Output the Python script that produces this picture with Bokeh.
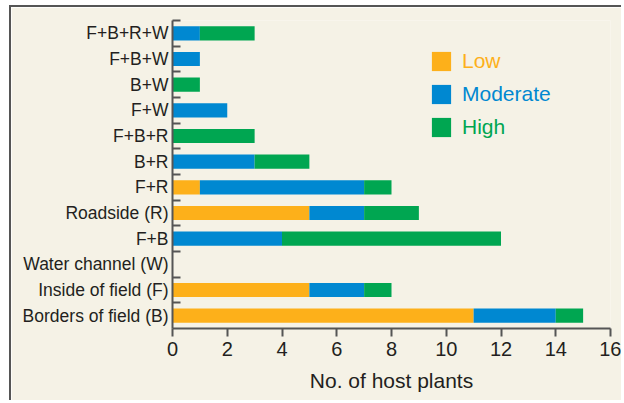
from bokeh.plotting import figure
from bokeh.models import Range1d, LinearAxis, FixedTicker, Legend, LegendItem, ColumnDataSource
from bokeh.embed import file_html
from bokeh.resources import INLINE

categories = ["Borders of field (B)", "Inside of field (F)", "Water channel (W)", "F+B",
              "Roadside (R)", "F+R", "B+R", "F+B+R", "F+W", "B+W", "F+B+W", "F+B+R+W"]
low = [11, 5, 0, 0, 5, 1, 0, 0, 0, 0, 0, 0]
moderate = [3, 2, 0, 4, 2, 6, 3, 0, 2, 0, 1, 1]
high = [1, 1, 0, 8, 2, 1, 2, 3, 0, 1, 0, 2]
series_names = ["Low", "Moderate", "High"]
x_ticks = [0, 2, 4, 6, 8, 10, 12, 14, 16]
x_title = "No. of host plants"

colors = ["#FDB01A", "#0088D1", "#00A651"]
cream = "#F5F2E6"
ink = "#231F20"
axis_col = "#555555"
font = "Liberation Sans"

ypos = list(range(len(categories)))
source = ColumnDataSource(dict(y=ypos, Low=low, Moderate=moderate, High=high))

p = figure(width=612, height=395, x_range=Range1d(0, 16),
           y_range=Range1d(-0.5, len(categories) - 0.5),
           output_backend="svg", toolbar_location=None, y_axis_type=None,
           min_border_left=161, min_border_right=13, min_border_top=13, min_border_bottom=74,
           background_fill_color=cream, border_fill_color=cream, outline_line_color=None)
p.styles = {"border-left": "2px solid #555555", "border-top": "2px solid #555555",
            "margin-left": "9px", "margin-top": "5px"}
p.grid.visible = False

rs = p.hbar_stack(series_names, y="y", height=0.55, color=colors, line_color=None, source=source)

# x axis
xa = p.xaxis[0]
xa.ticker = FixedTicker(ticks=x_ticks)
xa.major_tick_in = 0
xa.major_tick_out = 8
xa.minor_tick_line_color = None
xa.axis_line_color = axis_col
xa.axis_line_width = 2
xa.major_tick_line_color = axis_col
xa.major_tick_line_width = 2
xa.major_label_text_font = font
xa.major_label_text_font_size = "20px"
xa.major_label_text_color = ink
xa.major_label_standoff = 5
xa.axis_label = x_title
xa.axis_label_text_font = font
xa.axis_label_text_font_size = "21px"
xa.axis_label_text_font_style = "normal"
xa.axis_label_text_color = ink
xa.axis_label_standoff = 10

# y axis with boundary ticks pointing inward
bounds = [i + 0.5 for i in range(len(categories))]
ta = LinearAxis(ticker=FixedTicker(ticks=bounds, minor_ticks=[]))
ta.major_tick_in = 8
ta.major_tick_out = 0
ta.major_tick_line_color = axis_col
ta.major_tick_line_width = 2
ta.minor_tick_line_color = None
ta.axis_line_color = axis_col
ta.axis_line_width = 2
ta.major_label_text_alpha = 0
ta.major_label_text_font_size = "1px"
ta.major_label_standoff = 0
p.add_layout(ta, "left")

la = LinearAxis(ticker=FixedTicker(ticks=ypos, minor_ticks=[]),
                major_label_overrides={i: c for i, c in enumerate(categories)})
la.axis_line_color = None
la.major_tick_line_color = None
la.minor_tick_line_color = None
la.major_tick_out = 0
la.major_tick_in = 0
la.major_label_standoff = 4
la.major_label_text_font = font
la.major_label_text_font_size = "17.5px"
la.major_label_text_color = ink
p.add_layout(la, "left")

# legends (one per series to colour the text)
leg_pos = [(257, 255), (257, 222), (257, 189)]
for name, r, c, loc in zip(series_names, rs, colors, leg_pos):
    leg = Legend(items=[LegendItem(label=name, renderers=[r])], location=loc,
                 padding=0, margin=0, spacing=0, glyph_width=24, glyph_height=24,
                 label_height=24, label_standoff=9, border_line_color=None,
                 background_fill_alpha=0, label_text_color=c,
                 label_text_font=font, label_text_font_size="21px")
    p.add_layout(leg)

open("out.html", "w").write(file_html(p, INLINE))
